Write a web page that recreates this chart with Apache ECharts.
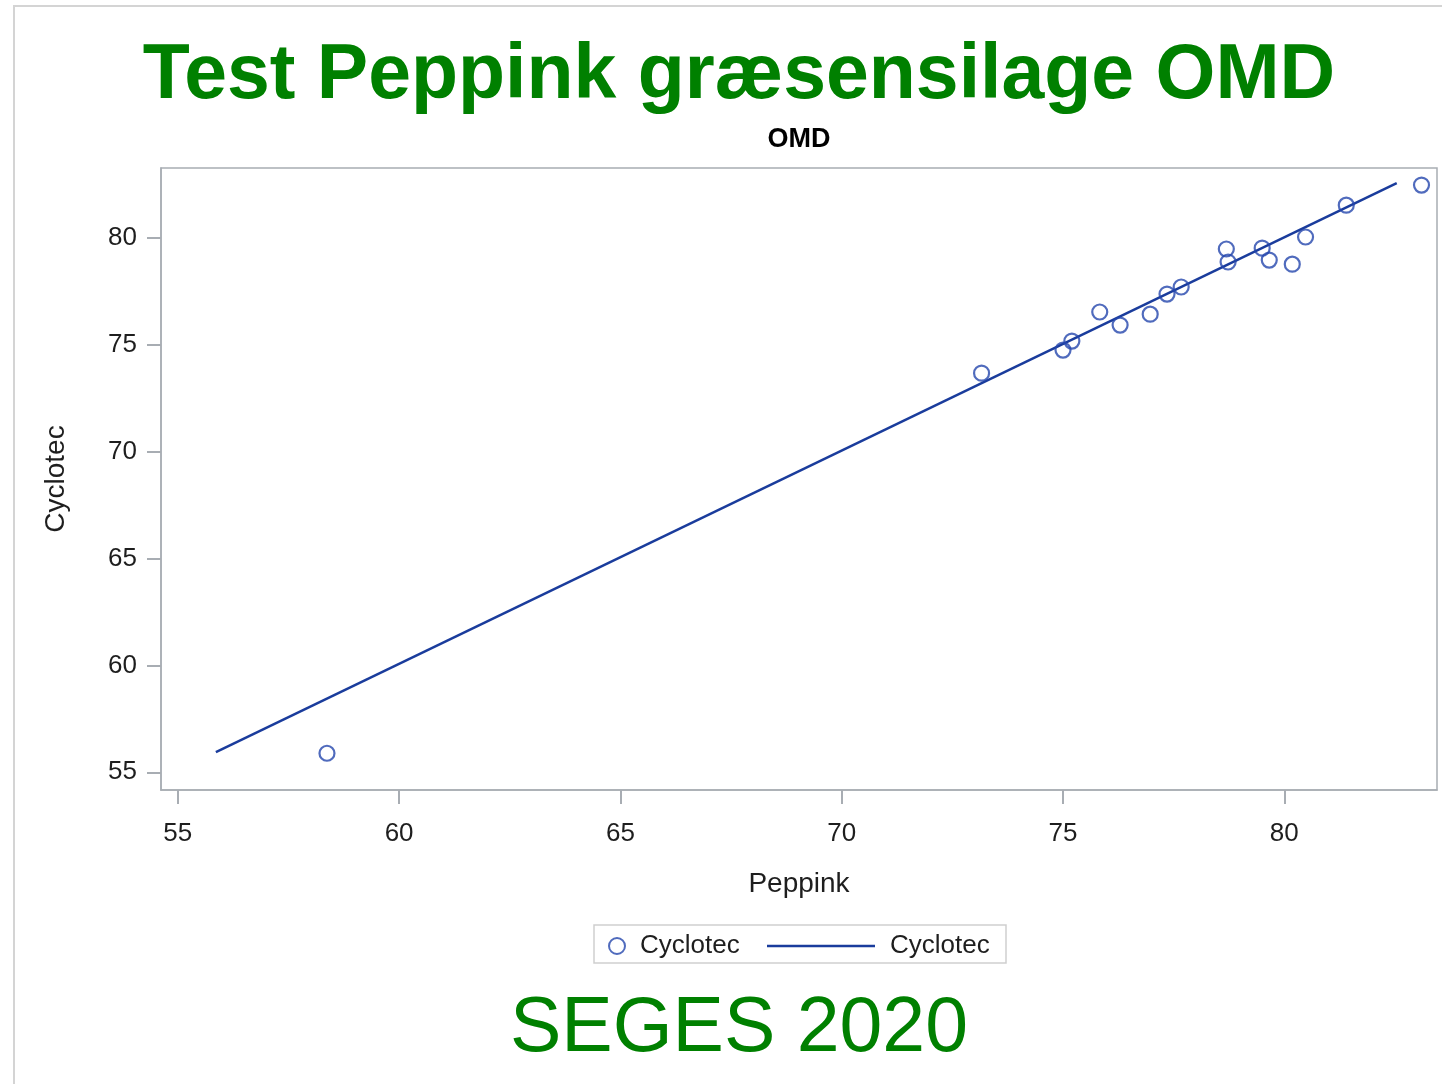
<!DOCTYPE html>
<html>
<head>
<meta charset="utf-8">
<style>
  html, body { margin: 0; padding: 0; background: #fff; }
  #main { width: 1442px; height: 1084px; }
</style>
<script src="https://cdn.jsdelivr.net/npm/echarts@6/dist/echarts.min.js"></script>
</head>
<body>
<div id="main"></div>
<script>
// Peppink vs Cyclotec (OMD)
var peppink  = [58.37, 73.16, 75.00, 75.20, 75.83, 76.29, 76.97, 77.35, 77.67, 78.69, 78.73, 79.50, 79.66, 80.18, 80.48, 81.40, 83.10];
var cyclotec = [55.89, 73.68, 74.76, 75.18, 76.54, 75.93, 76.44, 77.38, 77.71, 79.49, 78.88, 79.53, 78.97, 78.78, 80.05, 81.54, 82.48];
// ends of the fitted line
var fitX = [55.86, 82.54];
var fitY = [55.94, 82.57];
var xTicks = [55, 60, 65, 70, 75, 80];
var yTicks = [55, 60, 65, 70, 75, 80];

var points = peppink.map(function (v, i) { return [v, cyclotec[i]]; });
var fitLine = fitX.map(function (v, i) { return [v, fitY[i]]; });

var font = 'Liberation Sans, Arial, sans-serif';
var green = '#008000';
var markerBlue = '#2446ac';
var lineBlue = '#1a3c9c';
var axisGray = '#a8adb3';
var textColor = '#1e1e1e';

var myChart = echarts.init(document.getElementById('main'));

var option = {
  backgroundColor: '#fff',
  animation: false,
  title: [
    {
      text: 'Test Peppink græsensilage OMD',
      left: 734, top: 33, textAlign: 'center',
      textStyle: { color: green, fontFamily: font, fontWeight: 'bold', fontSize: 77 }
    },
    {
      text: 'OMD',
      left: 794, top: 121, textAlign: 'center',
      textStyle: { color: '#000', fontFamily: font, fontWeight: 'bold', fontSize: 27 }
    },
    {
      text: 'SEGES 2020',
      left: 734, top: 986, textAlign: 'center',
      textStyle: { color: green, fontFamily: font, fontWeight: 'normal', fontSize: 77 }
    }
  ],
  graphic: [
    {
      type: 'polyline',
      shape: { points: [[14, 1084], [14, 6], [1442, 6]] },
      style: { stroke: '#d4d4d4', lineWidth: 2, fill: null }
    },
    {
      type: 'rect',
      shape: { x: 594, y: 925, width: 412, height: 38 },
      style: { stroke: '#cfcfcf', lineWidth: 1.5, fill: null }
    }
  ],
  legend: [
    {
      data: [{ name: 'Cyclotec', icon: 'circle' }],
      left: 603, top: 928,
      itemWidth: 16, itemHeight: 16,
      textStyle: { fontFamily: font, fontSize: 26, color: textColor, padding: [0, 0, 0, 10] },
      selectedMode: false
    },
    {
      data: [{ name: 'Cyclotec ', icon: 'rect', itemStyle: { color: lineBlue } }],
      left: 762, top: 928,
      itemWidth: 108, itemHeight: 2.5,
      formatter: function (n) { return n.trim(); },
      textStyle: { fontFamily: font, fontSize: 26, color: textColor, padding: [0, 0, 0, 10] },
      selectedMode: false
    }
  ],
  grid: {
    left: 161, top: 168, right: 5, bottom: 294,
    show: true, borderColor: axisGray, borderWidth: 1.5,
    containLabel: false
  },
  xAxis: {
    type: 'value',
    min: 54.62, max: 83.45,
    name: 'Peppink',
    nameLocation: 'middle',
    nameGap: 80,
    nameTextStyle: { fontFamily: font, fontSize: 28, color: textColor },
    axisLine: { show: true, lineStyle: { color: axisGray, width: 1.5 } },
    axisTick: { show: true, length: 14, customValues: xTicks, lineStyle: { color: axisGray, width: 2 } },
    axisLabel: { customValues: xTicks, margin: 31, fontFamily: font, fontSize: 26, color: textColor },
    splitLine: { show: false }
  },
  yAxis: {
    type: 'value',
    min: 54.17, max: 83.28,
    name: 'Cyclotec',
    nameLocation: 'middle',
    nameGap: 91,
    nameTextStyle: { fontFamily: font, fontSize: 28, color: textColor },
    axisLine: { show: true, lineStyle: { color: axisGray, width: 1.5 } },
    axisTick: { show: true, length: 14, customValues: yTicks, lineStyle: { color: axisGray, width: 2 } },
    axisLabel: { customValues: yTicks, margin: 24, fontFamily: font, fontSize: 26, color: textColor },
    splitLine: { show: false }
  },
  series: [
    {
      name: 'Cyclotec ',
      type: 'line',
      data: fitLine,
      symbol: 'none',
      lineStyle: { color: lineBlue, width: 2.5 },
      itemStyle: { color: lineBlue },
      z: 2
    },
    {
      name: 'Cyclotec',
      type: 'scatter',
      data: points,
      symbol: 'circle',
      symbolSize: 15,
      itemStyle: { color: 'rgba(255,255,255,0)', borderColor: markerBlue, borderWidth: 2.2 },
      z: 3
    }
  ]
};

myChart.setOption(option);
</script>
</body>
</html>
